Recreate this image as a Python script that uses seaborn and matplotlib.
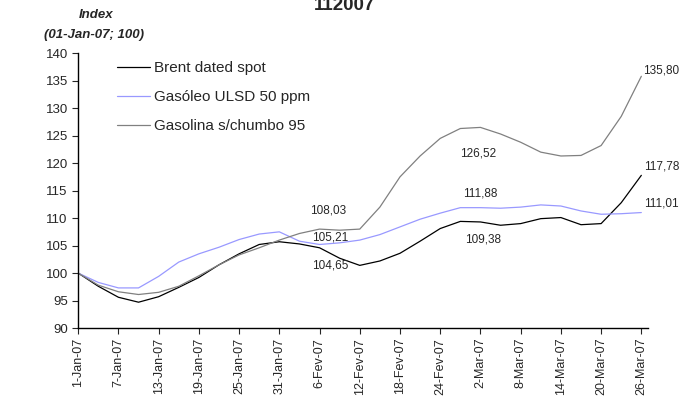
import pandas as pd
import numpy as np
import matplotlib
matplotlib.use("Agg")
import matplotlib.pyplot as plt
import seaborn as sns

# sample days (every 3 days from 1-Jan-07)
days = list(range(0, 85, 3))
brent = [100.0, 97.6, 95.6, 94.7, 95.7, 97.4, 99.2, 101.5, 103.5, 105.2,
         105.7, 105.3, 104.6, 102.7, 101.4, 102.2, 103.6, 105.8, 108.1, 109.4,
         109.3, 108.7, 109.0, 109.9, 110.1, 108.8, 109.0, 112.8, 117.78]
gasoleo = [100.0, 98.3, 97.3, 97.3, 99.4, 102.0, 103.5, 104.7, 106.1, 107.1,
           107.5, 105.8, 105.2, 105.5, 106.0, 107.0, 108.4, 109.8, 110.9, 111.9,
           111.9, 111.8, 112.0, 112.4, 112.2, 111.3, 110.7, 110.8, 111.01]
gasolina = [100.0, 97.8, 96.6, 96.1, 96.5, 97.6, 99.5, 101.5, 103.3, 104.6,
            106.0, 107.2, 108.0, 107.8, 108.0, 112.0, 117.5, 121.3, 124.5, 126.3,
            126.5, 125.3, 123.8, 122.0, 121.3, 121.4, 123.2, 128.5, 135.80]

series_names = ["Brent dated spot", "Gasóleo ULSD 50 ppm", "Gasolina s/chumbo 95"]
colors = ["#000000", "#9999FF", "#808080"]

tick_labels = ["1-Jan-07", "7-Jan-07", "13-Jan-07", "19-Jan-07", "25-Jan-07",
               "31-Jan-07", "6-Fev-07", "12-Fev-07", "18-Fev-07", "24-Fev-07",
               "2-Mar-07", "8-Mar-07", "14-Mar-07", "20-Mar-07", "26-Mar-07"]

# value labels: (series, day, value text, offset in points)
label_series = [2, 1, 0, 2, 1, 0, 2, 0, 1]
label_days = [36, 36, 36, 60, 60, 60, 84, 84, 84]
label_text = ["108,03", "105,21", "104,65", "126,52", "111,88", "109,38",
              "135,80", "117,78", "111,01"]
label_offsets = [(6.5, 13.7), (8, 5.3), (8, -12.5), (-1.4, -18.7), (0, 10.5),
                 (2, -12.3), (14.4, 4.3), (14.4, 6.6), (14.4, 6.8)]

start = pd.Timestamp("2007-01-01")
dates = start + pd.to_timedelta(days, unit="D")
df = pd.DataFrame({
    "date": np.tile(dates, 3),
    "value": brent + gasoleo + gasolina,
    "series": np.repeat(series_names, len(days)),
})

sns.set_style("white")
plt.rcParams["font.family"] = ["Liberation Sans", "DejaVu Sans"]

fig = plt.figure(figsize=(6.8, 4.03), dpi=100)
ax = fig.add_axes([0.114, 0.186, 0.839, 0.682])

sns.lineplot(data=df, x="date", y="value", hue="series", hue_order=series_names,
             palette=colors, linewidth=0.9, ax=ax, legend=True)

ax.set_ylim(90, 140)
ax.set_yticks(range(90, 141, 5))
ax.set_xlim(start - pd.Timedelta(days=0.1), start + pd.Timedelta(days=85))
ticks = start + pd.to_timedelta(np.arange(0, 85, 6), unit="D")
ax.set_xticks(ticks)
ax.set_xticklabels(tick_labels, rotation=90, fontsize=9)
ax.tick_params(axis="y", labelsize=9.5, length=4, direction="out", left=True, pad=3)
ax.tick_params(axis="x", length=4, direction="out", bottom=True, pad=3)
ax.set_xlabel("")
ax.set_ylabel("")
for s in ["top", "right"]:
    ax.spines[s].set_visible(False)
for s in ["left", "bottom"]:
    ax.spines[s].set_color("black")
    ax.spines[s].set_linewidth(1.0)

vals = [brent, gasoleo, gasolina]
for si, d, txt, off in zip(label_series, label_days, label_text, label_offsets):
    v = vals[si][days.index(d)]
    ax.annotate(txt, xy=(start + pd.Timedelta(days=d), v), xytext=off,
                textcoords="offset points", ha="center", va="center",
                fontsize=8.5, annotation_clip=False)

leg = ax.legend(loc="upper left", bbox_to_anchor=(0.069, 0.970), frameon=False,
                fontsize=11, handlelength=2.15, labelspacing=0.97,
                handletextpad=0.25, borderpad=0, borderaxespad=0)

fig.text(0.141, 0.963, "Index", fontsize=9.5, fontweight="bold",
         fontstyle="italic", ha="center", va="center")
fig.text(0.138, 0.913, "(01-Jan-07; 100)", fontsize=9.5, fontweight="bold",
         fontstyle="italic", ha="center", va="center")
fig.text(0.506, 0.975, "112007", fontsize=13.5, fontweight="bold",
         ha="center", va="baseline")

fig.savefig("out.png", dpi=100)
